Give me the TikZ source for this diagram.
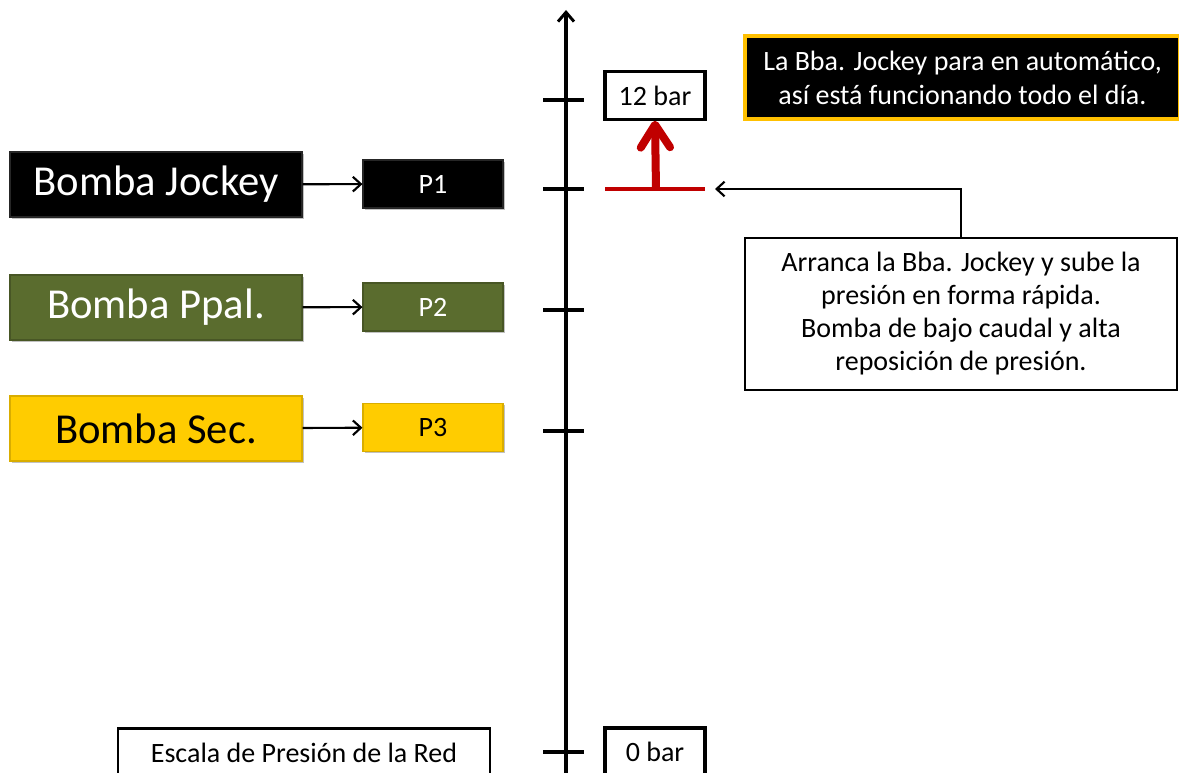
\documentclass[tikz,border=0pt]{standalone}
\usepackage{fontspec}
\setmainfont{Carlito}
\usetikzlibrary{arrows.meta,shadows}
\definecolor{pgreen}{RGB}{90,108,46}
\definecolor{pyellow}{RGB}{255,204,0}
\definecolor{cgold}{RGB}{255,192,0}
\definecolor{pred}{RGB}{192,0,0}
\begin{document}
\begin{tikzpicture}[x=0.75pt,y=-0.75pt,
  shade/.style={drop shadow={shadow xshift=1.2pt,shadow yshift=-1.5pt,opacity=.35,fill=black!70}},
  bigbox/.style={shade,rectangle,minimum width=219pt,minimum height=48.75pt,inner sep=0pt,font=\fontsize{32}{36}\selectfont,line width=0.8pt},
  pbox/.style={shade,rectangle,minimum width=105pt,minimum height=36pt,inner sep=0pt,font=\fontsize{21}{24}\selectfont,line width=0.8pt},
  barbox/.style={draw=black,fill=white,line width=2.4pt,rectangle,minimum width=75pt,minimum height=35.5pt,inner sep=0pt,font=\fontsize{21}{24}\selectfont},
  txtbox/.style={draw=black,fill=white,line width=2.2pt,rectangle,inner sep=0pt,align=center,font=\fontsize{21}{24.75}\selectfont},
  link/.style={line width=1.6pt,-{Straight Barb[length=6pt,width=11pt,line width=1.6pt]}},
  tick/.style={line width=2.5pt}
]
\clip (0,0) rectangle (1179,773);
% axis
\coordinate (axbot) at (566,790);
\coordinate (axtop) at (566,10);
\draw[line width=2.5pt,-{Straight Barb[length=7pt,width=12pt,line width=2.2pt]}] (axbot) -- (axtop);
\foreach \yy/\nm in {100/t12,189/t1,310/t2,431/t3,752/t0}{
  \coordinate (\nm a) at (543,\yy);
  \coordinate (\nm b) at (584,\yy);
  \draw[tick] (\nm a) -- (\nm b);
}
% bar labels
\node[barbox] (b12) at (655,95.5) {12 bar};
\node[barbox,minimum height=36pt] (b0) at (655,752) {0 bar};
\node[txtbox,minimum width=279pt,minimum height=36pt] (esc) at (304,752.5) {Escala de Presión de la Red};
% pump boxes
\node[bigbox,fill=black,draw=black!85,text=white] (bj) at (156,184.5) {Bomba Jockey};
\node[bigbox,fill=pgreen,draw=pgreen!80!black,text=white] (bp) at (156,307.5) {Bomba Ppal.};
\node[bigbox,fill=pyellow,draw=pyellow!85!black,text=black] (bs) at (156,428.5) {Bomba Sec.};
\node[pbox,fill=black,draw=black!85,text=white] (p1) at (433,184) {P1};
\node[pbox,fill=pgreen,draw=pgreen!80!black,text=white] (p2) at (433,307) {P2};
\node[pbox,fill=pyellow,draw=pyellow!85!black,text=black] (p3) at (433,427.5) {P3};
\draw[link] (bj) -- (p1);
\draw[link] (bp) -- (p2);
\draw[link] (bs) -- (p3);
% red level marker
\coordinate (rl) at (605,189);
\coordinate (rr) at (705,189);
\coordinate (rm) at (656,189);
\draw[pred,line width=2.4pt] (rl) -- (rr);
\draw[pred,line width=6pt,-{Straight Barb[length=17pt,width=22pt,line width=6pt,round]}] (rm) -- (b12.south);
% callout
\node[shade,rectangle,fill=black,draw=cgold,line width=3pt,text=white,align=center,minimum width=326pt,minimum height=62.25pt,inner sep=0pt,font=\fontsize{21}{25.5}\selectfont] (cal) at (962.5,77.5) {La Bba. Jockey para en automático,\\así está funcionando todo el día.};
% explanation
\node[txtbox,minimum width=324pt,minimum height=114pt] (arr) at (961,314) {Arranca la Bba. Jockey y sube la\\presión en forma rápida.\\Bomba de bajo caudal y alta\\reposición de presión.};
\coordinate (tip) at (715,189);
\draw[link] (arr.north) |- (tip);
\end{tikzpicture}
\end{document}
